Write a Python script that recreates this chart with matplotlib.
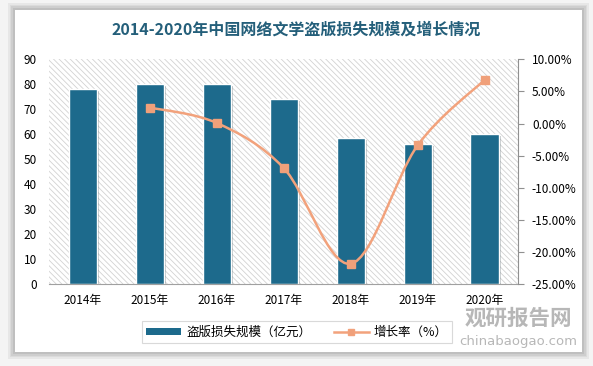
import matplotlib.pyplot as plt
import matplotlib.patheffects as pe
from matplotlib.patches import Rectangle, Path, PathPatch
from matplotlib.lines import Line2D

plt.rcParams['font.family'] = ['Noto Sans CJK SC', 'DejaVu Sans']
plt.rcParams['hatch.linewidth'] = 0.6

years = ['2014年', '2015年', '2016年', '2017年', '2018年', '2019年', '2020年']
loss = [78.0, 80.1, 80.1, 74.2, 58.4, 56.2, 60.2]
growth = [2.5, 0.1, -6.9, -21.8, -3.4, 6.8]  # 2015-2020, %

bar_color = '#1d6a8c'
line_color = '#f2a27c'


def smooth_path(xs, ys):
    # Excel-style smoothed line: cubic bezier through every point
    verts = [(xs[0], ys[0])]
    codes = [Path.MOVETO]
    n = len(xs)
    for i in range(n - 1):
        x0, y0 = (xs[i - 1], ys[i - 1]) if i > 0 else (xs[i], ys[i])
        x3, y3 = (xs[i + 2], ys[i + 2]) if i + 2 < n else (xs[i + 1], ys[i + 1])
        c1 = (xs[i] + (xs[i + 1] - x0) / 6, ys[i] + (ys[i + 1] - y0) / 6)
        c2 = (xs[i + 1] - (x3 - xs[i]) / 6, ys[i + 1] - (y3 - ys[i]) / 6)
        verts += [c1, c2, (xs[i + 1], ys[i + 1])]
        codes += [Path.CURVE4] * 3
    return Path(verts, codes)


fig = plt.figure(figsize=(5.93, 3.66), dpi=100)
fig.patch.set_facecolor('#f4f4f4')

# card with soft shadow
for k, a in enumerate([0.05, 0.05, 0.06, 0.07]):
    d = (4 - k) * 0.003
    fig.patches.append(Rectangle((15 / 593 - d, 1 - 352 / 366 - d * 1.6),
                                 567 / 593 + 2 * d, 342 / 366 + 2 * d * 1.6,
                                 transform=fig.transFigure, facecolor='black',
                                 alpha=a, edgecolor='none', zorder=-5))
fig.patches.append(Rectangle((15 / 593, 1 - 352 / 366), 567 / 593, 342 / 366,
                             transform=fig.transFigure, facecolor='white',
                             edgecolor='none', zorder=-4))

ax = fig.add_axes([49.3 / 593, 1 - 284.3 / 366, 468.7 / 593, 225 / 366])
ax.set_facecolor('white')
ax.add_patch(Rectangle((0, 0), 1, 1, transform=ax.transAxes, facecolor='white',
                       edgecolor='#d2d2d2', hatch='\\\\\\\\\\\\', linewidth=0,
                       zorder=0))

xpos = list(range(len(years)))
bars = ax.bar(xpos, loss, width=0.42, color=bar_color, edgecolor='white',
              linewidth=1.0, zorder=2)
for b in bars:
    b.set_path_effects([pe.SimplePatchShadow(offset=(1.5, -1.5), alpha=0.25),
                        pe.Normal()])

ax.set_xlim(-0.5, len(years) - 0.5)
ax.set_ylim(0, 90)
ax.set_yticks(range(0, 91, 10))
ax.set_xticks(xpos)
ax.set_xticklabels(years, fontsize=8.5)
ax.tick_params(axis='y', length=0, labelsize=8.5, pad=9)
ax.tick_params(axis='x', length=0, labelsize=8.5, pad=7)
for s in ['top', 'left', 'right']:
    ax.spines[s].set_visible(False)
ax.spines['bottom'].set_color('#a0a0a0')

ax2 = ax.twinx()
ax2.set_ylim(-25, 10)
ax2.set_yticks(range(-25, 11, 5))
ax2.set_yticklabels([f'{v:.2f}%' for v in range(-25, 11, 5)])
ax2.tick_params(axis='y', length=4, color='#909090', labelsize=8.5, pad=6)
for s in ['top', 'left', 'bottom']:
    ax2.spines[s].set_visible(False)
ax2.spines['right'].set_color('#909090')

gx = xpos[1:]
ax2.add_patch(PathPatch(smooth_path(gx, growth), facecolor='none',
                        edgecolor=line_color, linewidth=1.8, zorder=3))
ax2.plot(gx, growth, linestyle='none', marker='s', markersize=6,
         color='#f0a07a', zorder=4)

fig.text(0.5, 1 - 30 / 366, '2014-2020年中国网络文学盗版损失规模及增长情况',
         ha='center', va='center', fontsize=11.5, fontweight='bold',
         color='#245f7a')

handles = [Rectangle((0, 0), 1, 1, facecolor=bar_color, edgecolor='none'),
           Line2D([], [], color=line_color, linewidth=1.8, marker='s',
                  markersize=5, markerfacecolor='#f0a07a')]
leg = fig.legend(handles, ['盗版损失规模（亿元）', '增长率（%）'], loc='center',
                 bbox_to_anchor=(297 / 593, 1 - 332 / 366), ncol=2, fontsize=9,
                 frameon=True, fancybox=False, handlelength=2.8, handleheight=0.5,
                 handletextpad=0.4, columnspacing=1.8, borderpad=0.35)
leg.get_frame().set_edgecolor('#d0d0d0')
leg.get_frame().set_linewidth(0.8)

# watermark
fig.text(518 / 593, 1 - 318 / 366, '观研报告网', ha='center', va='center',
         fontsize=15.5, fontweight='bold', color='#707070', alpha=0.5)
fig.text(518 / 593, 1 - 341 / 366, 'chinabaogao.com', ha='center', va='center',
         fontsize=9.5, color='#707070', alpha=0.5, family='DejaVu Sans')

fig.savefig('out.png', dpi=100, facecolor=fig.get_facecolor())
